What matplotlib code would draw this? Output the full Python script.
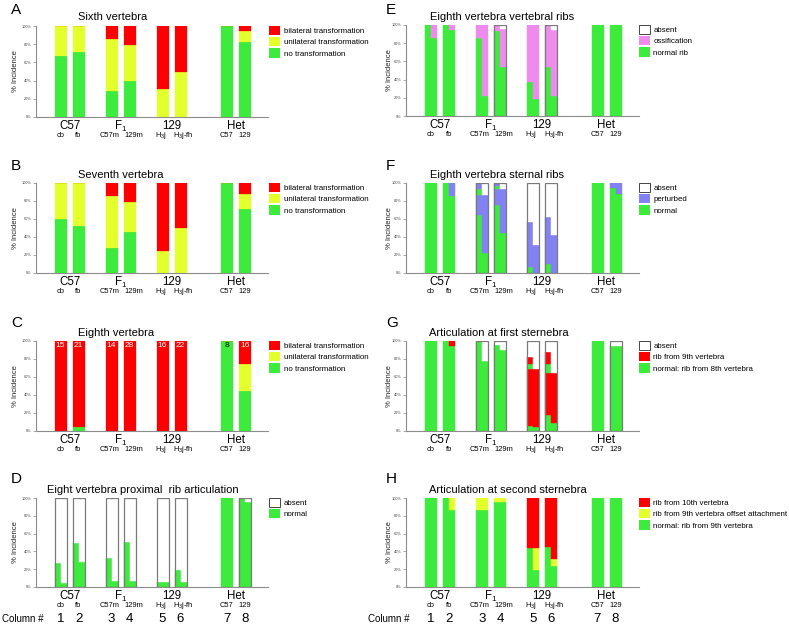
import numpy as np
import matplotlib
matplotlib.use('Agg')
import matplotlib.pyplot as plt
from matplotlib.patches import Patch

plt.rcParams['font.family'] = ['Liberation Sans', 'DejaVu Sans']
plt.rcParams['mathtext.fontset'] = 'custom'
plt.rcParams['mathtext.rm'] = 'Liberation Sans'
plt.rcParams['mathtext.it'] = 'Liberation Sans:italic'

# ---- labels ----
group_names = ['C57', 'F$_1$', '129', 'Het']
sub_names = ['cb', 'fb', 'C57m', '129m', 'H$_3$j', 'H$_3$j-fh', 'C57', '129']
column_nums = ['1', '2', '3', '4', '5', '6', '7', '8']

# ---- panel A: sixth vertebra (% incidence) ----
A_no = [67, 71, 29, 40, 0, 0, 100, 82]
A_uni = [33, 29, 57, 39, 31, 50, 0, 12]
A_bi = [0, 0, 14, 21, 69, 50, 0, 6]

# ---- panel B: seventh vertebra ----
B_no = [60, 52, 28, 46, 0, 0, 100, 71]
B_uni = [40, 48, 58, 33, 25, 50, 0, 17]
B_bi = [0, 0, 14, 21, 75, 50, 0, 12]

# ---- panel C: eighth vertebra ----
C_no = [0, 4, 0, 0, 0, 0, 100, 44]
C_uni = [0, 0, 0, 0, 0, 0, 0, 31]
C_bi = [100, 96, 100, 100, 100, 100, 0, 25]
C_n = [15, 21, 14, 28, 16, 22, 8, 16]

# ---- panel D: proximal rib articulation, left / right side ----
D_norm_L = [27, 49, 33, 51, 6, 19, 100, 100]
D_norm_R = [5, 28, 7, 7, 6, 6, 100, 95]

# ---- panel E: vertebral ribs (n normal, o ossification, a absent) ----
E_left = [[('n', 100)], [('n', 100)], [('n', 86), ('o', 14)], [('n', 93), ('o', 7)],
          [('n', 37), ('o', 63)], [('n', 54), ('o', 46)], [('n', 100)], [('n', 100)]]
E_right = [[('n', 86), ('o', 14)], [('n', 95), ('o', 5)], [('n', 22), ('o', 78)],
           [('n', 54), ('o', 42), ('a', 4)], [('n', 19), ('o', 81)],
           [('n', 22), ('o', 72), ('a', 6)], [('n', 100)], [('n', 100)]]

# ---- panel F: sternal ribs (n normal, p perturbed, a absent) ----
F_left = [[('n', 100)], [('n', 100)], [('n', 65), ('p', 22), ('n', 6), ('p', 7)],
          [('n', 76), ('p', 17), ('n', 4), ('p', 3)], [('n', 7), ('p', 50), ('a', 43)],
          [('n', 10), ('p', 52), ('a', 38)], [('n', 100)], [('n', 94), ('p', 6)]]
F_right = [[('n', 100)], [('n', 86), ('p', 14)], [('n', 22), ('p', 65), ('a', 13)],
           [('n', 44), ('p', 49), ('a', 7)], [('p', 31), ('a', 69)], [('p', 42), ('a', 58)],
           [('n', 100)], [('n', 88), ('p', 12)]]

# ---- panel G: first sternebra (n 8th, r 9th, a absent) ----
G_left = [[('n', 100)], [('n', 100)], [('n', 100)], [('n', 96), ('a', 4)],
          [('n', 6), ('r', 63), ('n', 6), ('r', 7), ('a', 18)],
          [('n', 18), ('r', 47), ('n', 9), ('r', 14), ('a', 12)],
          [('n', 100)], [('n', 94), ('a', 6)]]
G_right = [[('n', 100)], [('n', 95), ('r', 5)], [('n', 78), ('a', 22)], [('n', 90), ('a', 10)],
           [('n', 5), ('r', 64), ('a', 31)], [('n', 9), ('r', 55), ('a', 36)],
           [('n', 100)], [('n', 94), ('a', 6)]]

# ---- panel H: second sternebra (n 9th, o offset, r 10th) ----
H_left = [[('n', 100)], [('n', 100)], [('n', 86), ('o', 14)], [('n', 96), ('o', 4)],
          [('n', 44), ('r', 56)], [('n', 45), ('r', 55)], [('n', 100)], [('n', 100)]]
H_right = [[('n', 100)], [('n', 86), ('o', 14)], [('n', 86), ('o', 14)], [('n', 96), ('o', 4)],
           [('n', 19), ('o', 25), ('r', 56)], [('n', 24), ('o', 7), ('r', 69)],
           [('n', 100)], [('n', 100)]]

RED = '#FF0000'
YEL = '#E3FF2C'
GRN = '#3CEB3C'
PINK = '#EE8CEE'
BLUE = '#8282F4'
EDGE = '#7a7a7a'

W, H = 789, 634
fig = plt.figure(figsize=(W / 100, H / 100), dpi=100)

group_x = np.array([0, 51, 102, 166.5])
bar_x = np.repeat(group_x, 2) + np.tile([-9, 9], 4)
sub_nudge = [0, 0, -2, 4, -2, 3, 0, 0]  # pixels, keeps the small labels apart


def make_axes(x0, x1, y0, y1, xlim, ylab_x):
    ax = fig.add_axes([x0 / W, 1 - y1 / H, (x1 - x0) / W, (y1 - y0) / H])
    ax.set_xlim(xlim)
    ax.set_ylim(0, 100)
    for s in ['top', 'right']:
        ax.spines[s].set_visible(False)
    for s in ['left', 'bottom']:
        ax.spines[s].set_color('#8c8c8c')
        ax.spines[s].set_linewidth(0.8)
    ax.spines['left'].set_bounds(0, 100)
    ax.set_xticks([])
    ax.set_yticks(range(0, 101, 20))
    ax.set_yticklabels([f'{v}%' for v in range(0, 101, 20)])
    ax.tick_params(axis='y', length=2, width=0.5, color='#888', pad=1,
                   labelsize=2.8, labelcolor='#444')
    ax.set_ylabel('% Incidence', fontsize=5.5, color='#222')
    ax.yaxis.set_label_coords((ylab_x + 3.5 - x0) / (x1 - x0), 0.5)
    for gx, name in zip(group_x, group_names):
        ax.annotate(name, xy=(gx, 0), xycoords=('data', 'axes fraction'),
                    xytext=(0, -9), textcoords='offset pixels',
                    ha='center', va='center', fontsize=8.3)
    for bx, name, dx in zip(bar_x, sub_names, sub_nudge):
        ax.annotate(name, xy=(bx, 0), xycoords=('data', 'axes fraction'),
                    xytext=(dx, -18.5), textcoords='offset pixels',
                    ha='center', va='center', fontsize=5.4)
    return ax


def stack_whole(ax, series, colors):
    bottom = np.zeros(len(bar_x))
    for vals, c in zip(series, colors):
        vals = np.array(vals, dtype=float)
        ax.bar(bar_x, vals, width=12, bottom=bottom, color=c,
               edgecolor=c, linewidth=0.2)
        bottom += vals


def stack_halves(ax, left, right, cmap):
    for xi, segs_l, segs_r in zip(bar_x, left, right):
        for off, segs in ((-3, segs_l), (3, segs_r)):
            b = 0
            for key, h in segs:
                c = cmap[key]
                if h > 0:
                    ax.bar(xi + off, h, width=6, bottom=b, color=c,
                           edgecolor=c, linewidth=0.3)
                b += h
        if any(k == 'a' and h > 0 for k, h in segs_l + segs_r):
            ax.bar(xi, 100, width=12, fill=False, edgecolor=EDGE, linewidth=0.9)


def add_legend(ax, items, x):
    handles = []
    for lab, c in items:
        if c == 'white':
            handles.append(Patch(facecolor='white', edgecolor='#444', linewidth=0.7, label=lab))
        else:
            handles.append(Patch(facecolor=c, edgecolor=c, linewidth=0, label=lab))
    ax.legend(handles=handles, loc='upper left', bbox_to_anchor=(x, 1.0),
              frameon=False, fontsize=5.7, handlelength=1.4, handleheight=1.4,
              handletextpad=0.45, labelspacing=0.25, borderpad=0, borderaxespad=0)


def titles(letter, lx, ly, title, tx, ty):
    fig.text(lx / W, 1 - ly / H, letter, fontsize=11, ha='left', va='center')
    fig.text(tx / W, 1 - ty / H, title, fontsize=8, ha='left', va='center')


LX0, LX1 = 35.5, 268
RX0, RX1 = 406, 638.5
xlim_l = (-34, LX1 - LX0 - 34)
xlim_r = (-34, RX1 - RX0 - 34)
rows_l = [(26, 117), (183, 273), (341, 431), (498, 587)]
rows_r = [(25, 116), (183, 273), (341, 431), (498, 587)]
leg_l = (269 - LX0) / (LX1 - LX0)
leg_r = (638.5 - RX0) / (RX1 - RX0)
ylab_l, ylab_r = 15.5, 389.5

trans_items = [('bilateral transformation', RED), ('unilateral transformation', YEL),
               ('no transformation', GRN)]

# A
ax = make_axes(LX0, LX1, *rows_l[0], xlim_l, ylab_l)
stack_whole(ax, [A_no, A_uni, A_bi], [GRN, YEL, RED])
add_legend(ax, trans_items, leg_l)
titles('A', 11, 10, 'Sixth vertebra', 78, 17)

# B
ax = make_axes(LX0, LX1, *rows_l[1], xlim_l, ylab_l)
stack_whole(ax, [B_no, B_uni, B_bi], [GRN, YEL, RED])
add_legend(ax, trans_items, leg_l)
titles('B', 11, 166, 'Seventh vertebra', 78, 175)

# C
ax = make_axes(LX0, LX1, *rows_l[2], xlim_l, ylab_l)
stack_whole(ax, [C_no, C_uni, C_bi], [GRN, YEL, RED])
for bx, n, g in zip(bar_x, C_n, C_no):
    ax.text(bx, 94.5, str(n), ha='center', va='center', fontsize=6,
            color='black' if g == 100 else 'white')
add_legend(ax, trans_items, leg_l)
titles('C', 11, 323, 'Eighth vertebra', 78, 333)

# D
ax_d = make_axes(LX0, LX1, *rows_l[3], xlim_l, ylab_l)
D_left = [[('n', v), ('a', 100 - v)] for v in D_norm_L]
D_right = [[('n', v), ('a', 100 - v)] for v in D_norm_R]
stack_halves(ax_d, D_left, D_right, {'n': GRN, 'a': 'white'})
add_legend(ax_d, [('absent', 'white'), ('normal', GRN)], leg_l)
titles('D', 11, 479, 'Eight vertebra proximal  rib articulation', 47, 490)

# E
ax = make_axes(RX0, RX1, *rows_r[0], xlim_r, ylab_r)
stack_halves(ax, E_left, E_right, {'n': GRN, 'o': PINK, 'a': 'white'})
add_legend(ax, [('absent', 'white'), ('ossification', PINK), ('normal rib', GRN)], leg_r)
titles('E', 386, 10, 'Eighth vertebra vertebral ribs', 430, 17)

# F
ax = make_axes(RX0, RX1, *rows_r[1], xlim_r, ylab_r)
stack_halves(ax, F_left, F_right, {'n': GRN, 'p': BLUE, 'a': 'white'})
add_legend(ax, [('absent', 'white'), ('perturbed', BLUE), ('normal', GRN)], leg_r)
titles('F', 386, 166, 'Eighth vertebra sternal ribs', 430, 175)

# G
ax = make_axes(RX0, RX1, *rows_r[2], xlim_r, ylab_r)
stack_halves(ax, G_left, G_right, {'n': GRN, 'r': RED, 'a': 'white'})
add_legend(ax, [('absent', 'white'), ('rib from 9th vertebra', RED),
                ('normal: rib from 8th vertebra', GRN)], leg_r)
titles('G', 386, 323, 'Articulation at first sternebra', 429, 333)

# H
ax_h = make_axes(RX0, RX1, *rows_r[3], xlim_r, ylab_r)
stack_halves(ax_h, H_left, H_right, {'n': GRN, 'o': YEL, 'r': RED})
add_legend(ax_h, [('rib from 10th vertebra', RED),
                  ('rib from 9th vertebra offset attachment', YEL),
                  ('normal: rib from 9th vertebra', GRN)], leg_r)
titles('H', 386, 479, 'Articulation at second sternebra', 429, 490)

# column numbers under the bottom row
for a, lab_x, ha in ((ax_d, 2, 'left'), (ax_h, 410, 'right')):
    fig.text(lab_x / W, 1 - 619 / H, 'Column #', fontsize=7, ha=ha, va='center')
    for bx, num in zip(bar_x, column_nums):
        a.annotate(num, xy=(bx, 0), xycoords=('data', 'axes fraction'),
                   xytext=(0, -32), textcoords='offset pixels',
                   ha='center', va='center', fontsize=9.5)

fig.savefig('out.png', dpi=100)
